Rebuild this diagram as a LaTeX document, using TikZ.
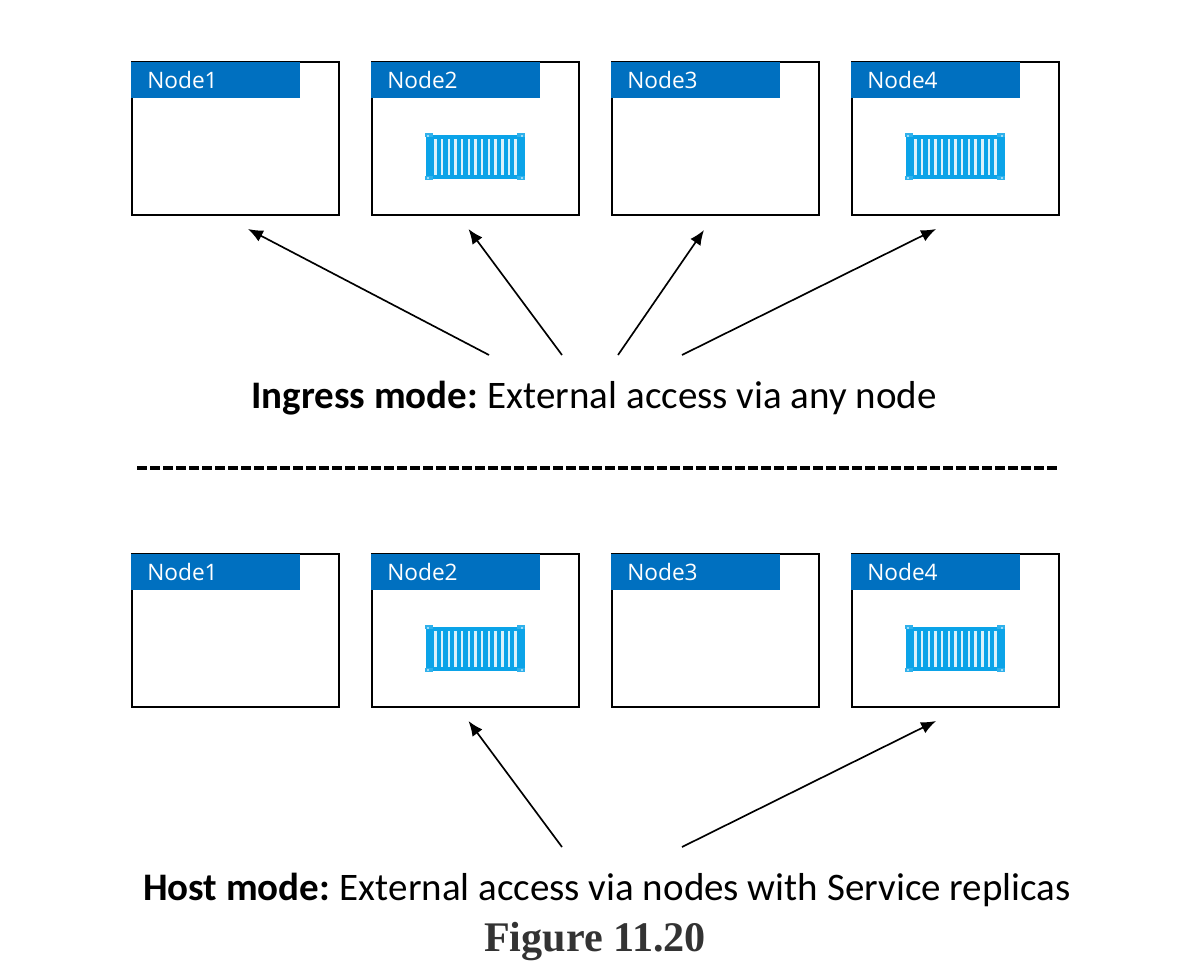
\documentclass[tikz,border=0pt]{standalone}
\usepackage{fontspec}
\usepackage{xcolor}
\usetikzlibrary{arrows.meta}
\setmainfont{Carlito}
\newfontfamily\labelfont{Open Sans}
\newfontfamily\captionfont{Liberation Serif}
\definecolor{headerblue}{HTML}{0070C0}
\definecolor{boxblue}{HTML}{0BA3E8}
\definecolor{captiongray}{HTML}{333333}

\begin{document}
\begin{tikzpicture}[x=0.02cm,y=-0.02cm,
    hostbox/.style={rectangle,draw=black,line width=1.05pt,fill=white,minimum width=4.14cm,minimum height=3.06cm,inner sep=0pt},
    header/.style={rectangle,fill=headerblue,text=white,anchor=north west,minimum width=3.38cm,minimum height=0.725cm,inner xsep=0.32cm,inner ysep=0pt,text width=2.74cm,align=left,font=\labelfont\fontsize{12.9}{14}\selectfont},
    modetext/.style={font=\fontsize{22.2}{26}\selectfont,inner sep=0pt},
    link/.style={-{Latex[length=8.5pt,width=7pt]},line width=0.95pt},
    shipbox/.pic={
      \fill[boxblue] (-49.5,-22) rectangle (49.5,22);
      \foreach \sx/\sy in {-46/-21.5,46/-21.5,-46/21.5,46/21.5}
        \fill[boxblue!85!white] (\sx-4,\sy-2) rectangle (\sx+4,\sy+2);
      \foreach \i in {0,...,12}
        \fill[white!85!boxblue] (-40.8+6.67*\i,-18) rectangle ++(2.6,36);
      \foreach \sx/\sy in {-47/-21,47/-21,-47/21,47/21}
        \fill[white!60!boxblue] (\sx-1,\sy-1) rectangle (\sx+1,\sy+1);
    }]
  \useasboundingbox (0,0) rectangle (1181,974);
  % upper row
  \node[hostbox] (A1) at (235.5,138.5) {};
  \node[hostbox] (A2) at (475.5,138.5) {};
  \node[hostbox] (A3) at (715.5,138.5) {};
  \node[hostbox] (A4) at (955.5,138.5) {};
  \node[header] (HA1) at (131,61.5) {Node1};
  \node[header] (HA2) at (371,61.5) {Node2};
  \node[header] (HA3) at (611,61.5) {Node3};
  \node[header] (HA4) at (851,61.5) {Node4};
  \pic at (475,156.5) {shipbox};
  \pic at (955,156.5) {shipbox};
  % lower row
  \node[hostbox] (B1) at (235.5,630.5) {};
  \node[hostbox] (B2) at (475.5,630.5) {};
  \node[hostbox] (B3) at (715.5,630.5) {};
  \node[hostbox] (B4) at (955.5,630.5) {};
  \node[header] (HB1) at (131,553.5) {Node1};
  \node[header] (HB2) at (371,553.5) {Node2};
  \node[header] (HB3) at (611,553.5) {Node3};
  \node[header] (HB4) at (851,553.5) {Node4};
  \pic at (475,648.5) {shipbox};
  \pic at (955,648.5) {shipbox};
  % texts
  \node[modetext] (ingress) at (594,398) {\textbf{Ingress mode:}\kern-1.2pt{} External access via any node};
  \node[modetext] (host) at (607,889.5) {\textbf{Host mode:}\kern-1.2pt{} External access via nodes with Service replicas};
  \node[inner sep=0pt,text=captiongray,font=\captionfont\bfseries\fontsize{24}{26}\selectfont] (caption) at (595,942) {Figure 11.20};
  % arrow ends
  \coordinate (s1) at (489,355);
  \coordinate (s2) at (562,355);
  \coordinate (s3) at (618,355);
  \coordinate (s4) at (682,355);
  \coordinate (t1) at (248,229);
  \coordinate (t2) at (468.5,229);
  \coordinate (t3) at (704,230);
  \coordinate (t4) at (936,229);
  \coordinate (s5) at (562,847);
  \coordinate (s6) at (682,847);
  \coordinate (t5) at (468.5,721);
  \coordinate (t6) at (936,721);
  \draw[link] (s1)--(t1);
  \draw[link] (s2)--(t2);
  \draw[link] (s3)--(t3);
  \draw[link] (s4)--(t4);
  \draw[link] (s5)--(t5);
  \draw[link] (s6)--(t6);
  % divider
  \coordinate (d1) at (137,468);
  \coordinate (d2) at (1060,468);
  \draw[line width=2pt,dash pattern=on 5.6pt off 1.8pt] (d1)--(d2);
\end{tikzpicture}
\end{document}
